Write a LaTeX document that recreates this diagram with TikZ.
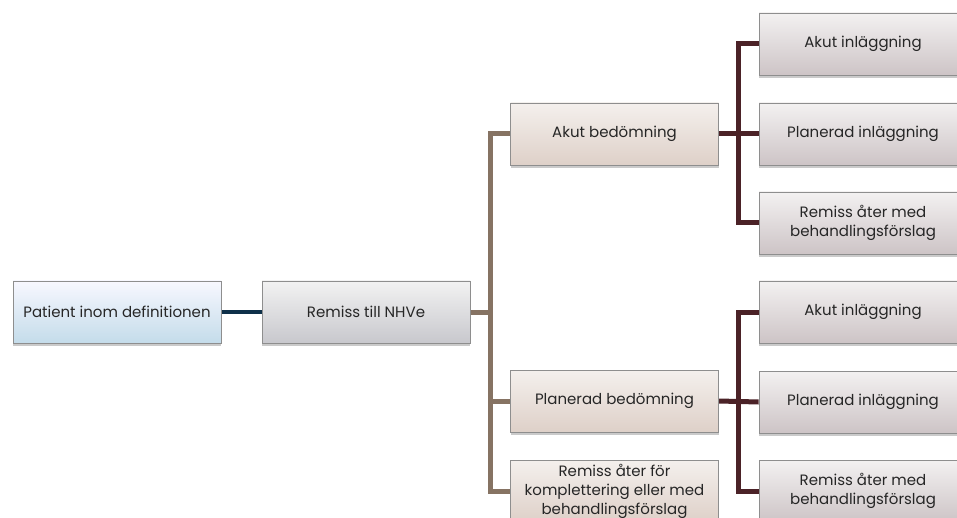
\documentclass[tikz,border=0pt]{standalone}
\usepackage{fontspec}
\setmainfont{Poppins}
\usetikzlibrary{shadows,backgrounds}
\definecolor{navyline}{HTML}{0E3049}
\definecolor{brownline}{HTML}{867363}
\definecolor{maroonline}{HTML}{4B2227}
\definecolor{boxborder}{HTML}{8E8E8E}
\definecolor{txt}{HTML}{262626}
\begin{document}
\begin{tikzpicture}[x=1pt,y=-1pt,
  box/.style={draw=boxborder, line width=0.9pt, minimum height=62pt, inner sep=2pt,
    align=center, text=txt, font=\fontsize{15}{19}\selectfont,
    drop shadow={shadow xshift=0pt,shadow yshift=-3pt,opacity=0.35,fill=black!60}},
  bluebox/.style={box, top color=blue!3!white, bottom color={rgb,255:red,196;green,220;blue,234}},
  graybox/.style={box, top color={rgb,255:red,242;green,242;blue,242}, bottom color={rgb,255:red,200;green,200;blue,205}},
  brownbox/.style={box, top color={rgb,255:red,244;green,240;blue,237}, bottom color={rgb,255:red,222;green,208;blue,200}},
  pinkbox/.style={box, top color={rgb,255:red,243;green,241;blue,241}, bottom color={rgb,255:red,205;green,196;blue,198}},
  lvlone/.style={line width=4pt, navyline},
  lvltwo/.style={line width=5pt, brownline},
  lvlthree/.style={line width=5pt, maroonline}]
\useasboundingbox (0,0) rectangle (957,518);
\clip (0,0) rectangle (957,518);

\node[bluebox, minimum width=208pt] (pat) at (117,312) {Patient inom definitionen};
\node[graybox, minimum width=208pt] (rem) at (366,312) {Remiss till NHVe};

\node[brownbox, minimum width=208pt] (akb) at (614.5,134) {Akut bedömning};
\node[brownbox, minimum width=208pt] (plb) at (614.5,401) {Planerad bedömning};
\node[brownbox, minimum width=208pt] (rab) at (614.5,491) {Remiss åter för\\komplettering eller med\\behandlingsförslag};

\node[pinkbox, minimum width=208pt] (a1) at (863,44) {Akut inläggning};
\node[pinkbox, minimum width=208pt] (p1) at (863,134) {Planerad inläggning};
\node[pinkbox, minimum width=208pt] (r1) at (863,223) {Remiss åter med\\behandlingsförslag};

\node[pinkbox, minimum width=208pt] (a2) at (863,312) {Akut inläggning};
\node[pinkbox, minimum width=208pt] (p2) at (863,402) {Planerad inläggning};
\node[pinkbox, minimum width=208pt] (r2) at (863,491) {Remiss åter med\\behandlingsförslag};

\coordinate (bj) at (490,312);
\coordinate (tj) at (738.5,134);
\coordinate (uj) at (738.5,401);

\begin{scope}[on background layer]
\draw[lvlone] (pat.east) -- (rem.west);
\draw[lvltwo] (rem.east) -- (bj);
\draw[lvltwo] (akb.west) -| (bj);
\draw[lvltwo] (plb.west) -| (bj);
\draw[lvltwo] (rab.west) -| (bj);
\draw[lvlthree] (akb.east) -- (p1.west);
\draw[lvlthree] (a1.west) -| (tj);
\draw[lvlthree] (r1.west) -| (tj);
\draw[lvlthree] (plb.east) -- (p2.west);
\draw[lvlthree] (a2.west) -| (uj);
\draw[lvlthree] (r2.west) -| (uj);
\end{scope}
\end{tikzpicture}
\end{document}
